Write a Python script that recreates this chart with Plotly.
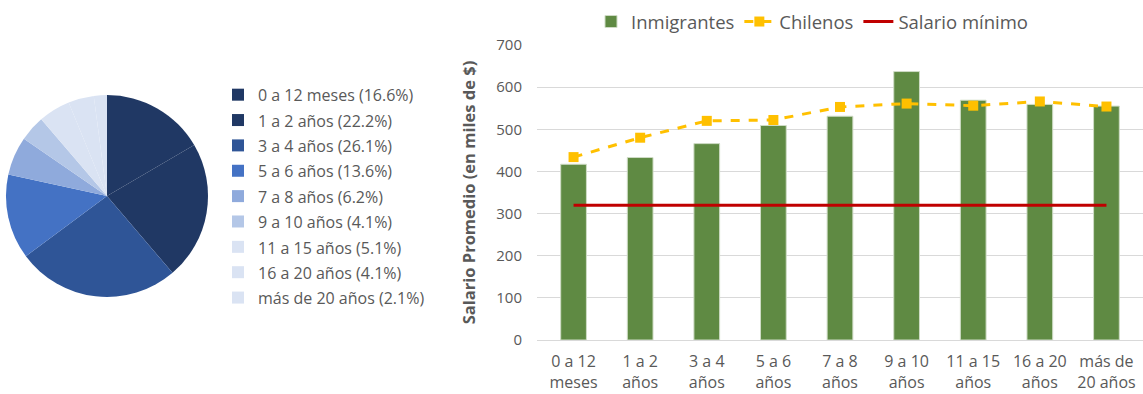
import plotly.graph_objects as go

# --- Distribution of immigrants by time living in the country (pie) ---
pie_labels = [
    "0 a 12 meses (16.6%)", "1 a 2 años (22.2%)", "3 a 4 años (26.1%)",
    "5 a 6 años (13.6%)", "7 a 8 años (6.2%)", "9 a 10 años (4.1%)",
    "11 a 15 años (5.1%)", "16 a 20 años (4.1%)", "más de 20 años (2.1%)",
]
pie_values = [16.6, 22.2, 26.1, 13.6, 6.2, 4.1, 5.1, 4.1, 2.1]
pie_colors = ["#203864", "#203864", "#2f5597", "#4472c4", "#8faadc",
              "#b4c7e7", "#dae3f3", "#dae3f3", "#dae3f3"]

# --- Average salary by time living in the country (bars + lines) ---
categories = ["0 a 12<br>meses", "1 a 2<br>años", "3 a 4<br>años", "5 a 6<br>años",
              "7 a 8<br>años", "9 a 10<br>años", "11 a 15<br>años",
              "16 a 20<br>años", "más de<br>20 años"]
inmigrantes = [417, 433, 466, 509, 531, 637, 569, 559, 555]
chilenos = [434, 480, 520, 522, 553, 561, 556, 566, 554]
salario_minimo = [320] * len(categories)

y_ticks = [0, 100, 200, 300, 400, 500, 600, 700]

GREY = "#595959"
FONT = "Open Sans"

W, H = 1143, 394

fig = go.Figure()

fig.add_trace(go.Pie(
    labels=[f'<span style="font-size:16px">{t}</span>' for t in pie_labels],
    values=pie_values,
    marker=dict(colors=pie_colors, line=dict(width=0)),
    sort=False,
    direction="clockwise",
    rotation=0,
    textinfo="none",
    domain=dict(x=[6 / W, 208 / W], y=[1 - 297 / H, 1 - 95 / H]),
    legend="legend2",
    showlegend=True,
))

fig.add_trace(go.Bar(
    x=categories, y=inmigrantes, name="Inmigrantes",
    marker=dict(color="#5f8a43", line=dict(color="#cfdcc6", width=1)),
    legend="legend",
))

fig.add_trace(go.Scatter(
    x=categories, y=chilenos, name="Chilenos", mode="lines+markers",
    line=dict(color="#ffc000", width=3, dash="dash"),
    marker=dict(symbol="square", size=10, color="#ffc000"),
    legend="legend",
))

fig.add_trace(go.Scatter(
    x=categories, y=salario_minimo, name="Salario mínimo", mode="lines",
    line=dict(color="#c00000", width=3),
    legend="legend",
))

fig.update_layout(
    width=W, height=H,
    margin=dict(l=0, r=0, t=0, b=0),
    paper_bgcolor="white", plot_bgcolor="white",
    font=dict(family=FONT, color=GREY, size=15),
    bargap=0.614,
    xaxis=dict(
        domain=[537 / W, 1.0],
        tickfont=dict(size=16, color=GREY),
        ticklabelstandoff=10,
        showgrid=False, showline=False, ticks="",
        automargin=False, fixedrange=True,
    ),
    yaxis=dict(
        domain=[1 - 340 / H, 1 - 45 / H],
        range=[0, 700],
        tickvals=y_ticks,
        tickfont=dict(size=15, color=GREY),
        ticklabelstandoff=14,
        gridcolor="#d9d9d9", gridwidth=1,
        zeroline=True, zerolinecolor="#d9d9d9", zerolinewidth=1,
        showline=False, ticks="",
        automargin=False,
        title=dict(text="<b>Salario Promedio (en miles de $)</b>",
                   font=dict(size=16.5, color=GREY), standoff=16),
    ),
    legend=dict(
        orientation="h",
        x=812 / W, xanchor="center",
        y=1 - 3 / H, yanchor="top",
        font=dict(size=18.5, color=GREY),
        bgcolor="rgba(0,0,0,0)",
        itemclick=False, itemdoubleclick=False,
    ),
    legend2=dict(
        orientation="v",
        x=218 / W, xanchor="left",
        y=1 - 77 / H, yanchor="top",
        itemwidth=30,
        font=dict(size=17.2, color=GREY),
        bgcolor="rgba(0,0,0,0)",
        itemclick=False, itemdoubleclick=False,
    ),
)

fig.write_html("out.html")
